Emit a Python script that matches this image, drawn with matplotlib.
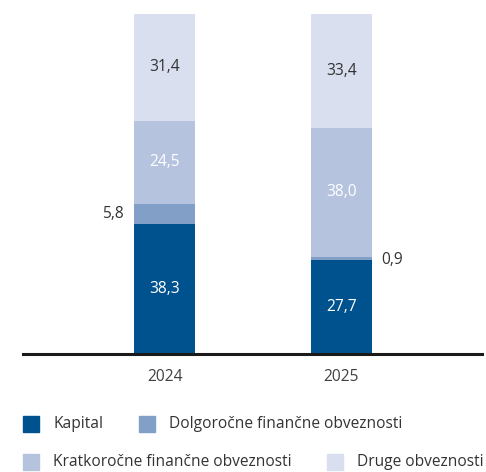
import matplotlib
matplotlib.use("Agg")
import matplotlib.pyplot as plt
from matplotlib.patches import Rectangle

plt.rcParams['font.family'] = ['Open Sans', 'DejaVu Sans']

years = ["2024", "2025"]
kapital = [38.3, 27.7]
dolgorocne = [5.8, 0.9]
kratkorocne = [24.5, 38.0]
druge = [31.4, 33.4]

series = [
    ("Kapital", kapital, "#00528f", "white"),
    ("Dolgoročne finančne obveznosti", dolgorocne, "#829fc7", None),
    ("Kratkoročne finančne obveznosti", kratkorocne, "#b5c3df", "white"),
    ("Druge obveznosti", druge, "#d9dfef", "#333333"),
]

FS = 11.2
W, H = 486, 472
fig = plt.figure(figsize=(W / 100, H / 100), dpi=100)
ax = fig.add_axes([23 / W, 1 - 354 / H, (482 - 23) / W, (354 - 14) / H])

x = [0, 1]
bw = 0.345
bottom = [0, 0]
for name, vals, col, tcol in series:
    ax.bar(x, vals, bw, bottom=bottom, color=col, edgecolor='none', zorder=2)
    for i in range(2):
        yc = bottom[i] + vals[i] / 2
        lab = f"{vals[i]:.1f}".replace(".", ",")
        if tcol is not None:
            ax.text(x[i], yc, lab, ha='center', va='center', color=tcol, fontsize=FS)
    bottom = [bottom[i] + vals[i] for i in range(2)]

# small segment labels outside the bars
ax.text(x[0] - bw / 2 - 0.06, kapital[0] + dolgorocne[0] / 2, "5,8",
        ha='right', va='center', color='#333333', fontsize=FS)
ax.text(x[1] + bw / 2 + 0.05, kapital[1] + dolgorocne[1] / 2 - 0.5, "0,9",
        ha='left', va='center', color='#333333', fontsize=FS)

ax.set_xlim((23 - 164.5) / 177, (482 - 164.5) / 177)
ax.set_ylim(0, 100)
for s in ['top', 'right', 'left']:
    ax.spines[s].set_visible(False)
ax.spines['bottom'].set_linewidth(2.2)
ax.spines['bottom'].set_color('#1a1a1a')
ax.set_yticks([])
ax.set_xticks(x)
ax.set_xticklabels(years, fontsize=FS, color='#404040')
ax.tick_params(axis='x', length=0, pad=11)

# legend laid out by hand (flow layout)
legend_items = [
    (series[0], 23, 424), (series[1], 139, 424),
    (series[2], 23, 462), (series[3], 327, 462),
]
for (name, vals, col, tcol), px, py in legend_items:
    fig.patches.append(Rectangle((px / W, 1 - (py + 8) / H), 16 / W, 16 / H,
                                 transform=fig.transFigure, color=col))
    fig.text((px + 30) / W, 1 - py / H, name, ha='left', va='center',
             fontsize=FS, color='#333333')

fig.savefig("out.png", dpi=100)
